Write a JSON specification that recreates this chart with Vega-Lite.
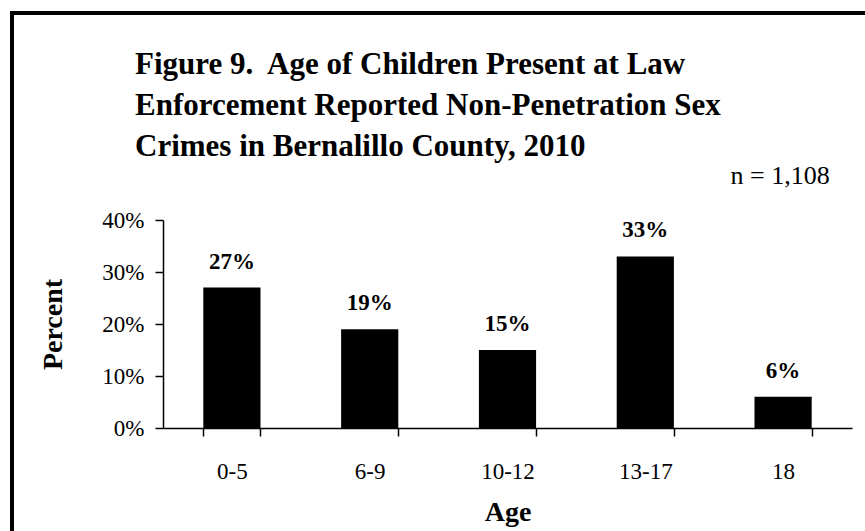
{
  "$schema": "https://vega.github.io/schema/vega-lite/v6.json",
  "width": 689,
  "height": 208,
  "autosize": {"type": "none"},
  "padding": {"left": 163, "top": 220, "right": 13, "bottom": 103},
  "background": "white",
  "title": {
    "text": ["Figure 9.\u00a0 Age of Children Present at Law", "Enforcement Reported Non-Penetration Sex", "Crimes in Bernalillo County, 2010"],
    "anchor": "start",
    "frame": "group",
    "dx": -28,
    "offset": -152,
    "font": "Liberation Serif",
    "fontSize": 31,
    "fontWeight": "bold",
    "lineHeight": 41,
    "color": "black"
  },
  "config": {
    "view": {"stroke": null},
    "font": "Liberation Serif"
  },
  "data": {
    "values": [
      {"age": "0-5", "pct": 0.27},
      {"age": "6-9", "pct": 0.19},
      {"age": "10-12", "pct": 0.15},
      {"age": "13-17", "pct": 0.33},
      {"age": "18", "pct": 0.06}
    ]
  },
  "encoding": {
    "x": {
      "field": "age",
      "type": "nominal",
      "sort": null,
      "scale": {"paddingInner": 0.585, "paddingOuter": 0.2925},
      "axis": {
        "title": "Age",
        "titleFont": "Liberation Serif",
        "titleFontSize": 28,
        "titleFontWeight": "bold",
        "titleColor": "black",
        "titlePadding": 15,
        "labelAngle": 0,
        "labelFont": "Liberation Serif",
        "labelFontSize": 23,
        "labelColor": "black",
        "labelPadding": 24,
        "domainColor": "black",
        "domainWidth": 1.5,
        "tickColor": "black",
        "tickWidth": 1.5,
        "tickSize": 8,
        "tickBand": "extent",
        "grid": false
      }
    },
    "y": {
      "field": "pct",
      "type": "quantitative",
      "scale": {"domain": [0, 0.4], "nice": false},
      "axis": {
        "title": "Percent",
        "titleFont": "Liberation Serif",
        "titleFontSize": 28,
        "titleFontWeight": "bold",
        "titleColor": "black",
        "titlePadding": 34,
        "values": [0, 0.1, 0.2, 0.3, 0.4],
        "format": ".0%",
        "labelFont": "Liberation Serif",
        "labelFontSize": 23,
        "labelColor": "black",
        "labelPadding": 11,
        "domainColor": "black",
        "domainWidth": 1.5,
        "tickColor": "black",
        "tickWidth": 1.5,
        "tickSize": 8,
        "grid": false
      }
    }
  },
  "layer": [
    {
      "mark": {"type": "rect", "fill": null, "stroke": "black", "strokeWidth": 4},
      "encoding": {
        "x": {"value": -151},
        "x2": {"value": 712},
        "y": {"value": -207},
        "y2": {"value": 321}
      }
    },
    {
      "mark": {"type": "bar", "color": "black"}
    },
    {
      "mark": {"type": "text", "font": "Liberation Serif", "fontSize": 23, "fontWeight": "bold", "color": "black", "baseline": "middle", "dy": -26},
      "encoding": {
        "text": {"field": "pct", "type": "quantitative", "format": ".0%"}
      }
    },
    {
      "data": {"values": [{"age": "18", "pct": 0.485, "label": "n = 1,108"}]},
      "mark": {"type": "text", "font": "Liberation Serif", "fontSize": 26, "color": "black", "align": "right", "baseline": "middle", "dx": 18},
      "encoding": {
        "x": {"field": "age", "type": "nominal", "bandPosition": 1},
        "y": {"field": "pct", "type": "quantitative"},
        "text": {"field": "label", "type": "nominal"}
      }
    }
  ]
}
